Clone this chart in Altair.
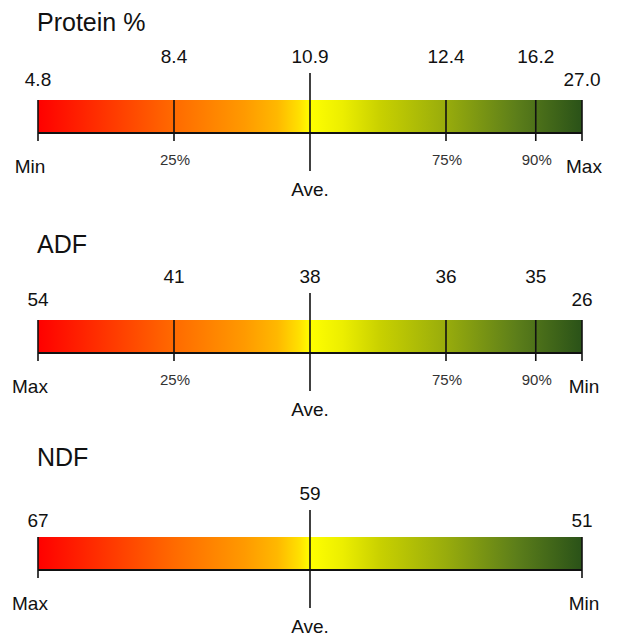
import altair as alt
import pandas as pd

# ---- data ----
titles = ["Protein %", "ADF", "NDF"]
end_values = [["4.8", "27.0"], ["54", "26"], ["67", "51"]]
end_names = [["Min", "Max"], ["Max", "Min"], ["Max", "Min"]]
ave_values = ["10.9", "38", "59"]
pct_names = ["25%", "75%", "90%"]
pct_pos = [25, 75, 91.5]          # position of the percentile ticks along the bar (0-100)
pct_values = [["8.4", "12.4", "16.2"], ["41", "36", "35"], []]
ave_pos = 50
end_pos = [0, 100]

grad_offsets = [0, 0.12, 0.25, 0.38, 0.44, 0.48, 0.5, 0.56, 0.63, 0.75, 0.88, 1]
grad_colors = ["#ff0000", "#ff3300", "#ff6a00", "#ff9a00", "#ffb800", "#ffe000", "#ffff00",
               "#ecee00", "#c8d000", "#98ac0c", "#5c7e1a", "#2a5218"]

FONT = "Liberation Sans"
INK = "#111111"
W = 544
BAR_TOP, BAR_BOT = 92, 125
# per-panel layout tweaks (title / end-value label distance above the bar)
TITLE_OFF = [77, 75, 79]
END_OFF = [20, 20, 16]

xscale = alt.Scale(domain=[0, 100], nice=False, zero=False)


def X(field):
    return alt.X(field, type="quantitative", scale=xscale, axis=None)


def panel(i, h):
    layers = []
    bar_df = pd.DataFrame({"start": [end_pos[0]], "end": [end_pos[1]]})
    grad = alt.Gradient(
        gradient="linear", x1=0, x2=1, y1=0, y2=0,
        stops=[alt.GradientStop(color=c, offset=o) for c, o in zip(grad_colors, grad_offsets)],
    )
    layers.append(alt.Chart(bar_df).mark_rect(fill=grad).encode(
        x=X("start"), x2="end", y=alt.value(BAR_TOP), y2=alt.value(BAR_BOT)))
    layers.append(alt.Chart(bar_df).mark_rule(color=INK, strokeWidth=2).encode(
        x=X("start"), x2="end", y=alt.value(BAR_BOT)))

    tick_pos = end_pos + (pct_pos if pct_values[i] else [])
    layers.append(alt.Chart(pd.DataFrame({"pos": tick_pos})).mark_rule(color=INK, strokeWidth=1.6).encode(
        x=X("pos"), y=alt.value(BAR_TOP), y2=alt.value(BAR_BOT + 8)))
    layers.append(alt.Chart(pd.DataFrame({"pos": [ave_pos]})).mark_rule(color=INK, strokeWidth=1.6).encode(
        x=X("pos"), y=alt.value(BAR_TOP - 27), y2=alt.value(BAR_BOT + 38)))

    up_df = pd.DataFrame({"pos": [ave_pos] + (pct_pos if pct_values[i] else []),
                          "label": [ave_values[i]] + pct_values[i]})
    layers.append(alt.Chart(up_df).mark_text(font=FONT, fontSize=19, color=INK, baseline="middle").encode(
        x=X("pos"), y=alt.value(BAR_TOP - 43), text="label:N"))
    end_df = pd.DataFrame({"pos": end_pos, "label": end_values[i]})
    layers.append(alt.Chart(end_df).mark_text(font=FONT, fontSize=19, color=INK, baseline="middle").encode(
        x=X("pos"), y=alt.value(BAR_TOP - END_OFF[i]), text="label:N"))

    if pct_values[i]:
        pdf = pd.DataFrame({"pos": pct_pos, "label": pct_names})
        layers.append(alt.Chart(pdf).mark_text(font=FONT, fontSize=15, color="#333333", baseline="middle", dx=1).encode(
            x=X("pos"), y=alt.value(BAR_BOT + 27), text="label:N"))

    layers.append(alt.Chart(pd.DataFrame({"pos": [end_pos[0]], "label": [end_names[i][0]]})).mark_text(
        font=FONT, fontSize=19, color=INK, baseline="middle", dx=-8).encode(
        x=X("pos"), y=alt.value(BAR_BOT + 34), text="label:N"))
    layers.append(alt.Chart(pd.DataFrame({"pos": [end_pos[1]], "label": [end_names[i][1]]})).mark_text(
        font=FONT, fontSize=19, color=INK, baseline="middle", dx=2).encode(
        x=X("pos"), y=alt.value(BAR_BOT + 34), text="label:N"))
    layers.append(alt.Chart(pd.DataFrame({"pos": [ave_pos], "label": ["Ave."]})).mark_text(
        font=FONT, fontSize=19, color=INK, baseline="middle").encode(
        x=X("pos"), y=alt.value(BAR_BOT + 57), text="label:N"))

    layers.append(alt.Chart(pd.DataFrame({"label": [titles[i]]})).mark_text(
        font=FONT, fontSize=25, color=INK, baseline="middle", align="left").encode(
        x=alt.value(-1), y=alt.value(BAR_TOP - TITLE_OFF[i]), text="label:N"))

    return alt.layer(*layers).properties(width=W, height=h)


chart = alt.vconcat(panel(0, 220), panel(1, 217), panel(2, 194), spacing=0).properties(
    padding={"left": 4, "top": 0, "right": 5, "bottom": 0}
).configure(background="white", view=alt.ViewConfig(stroke=None, strokeWidth=0))

chart.save("out.html", embed_options={"renderer": "svg", "actions": False})
